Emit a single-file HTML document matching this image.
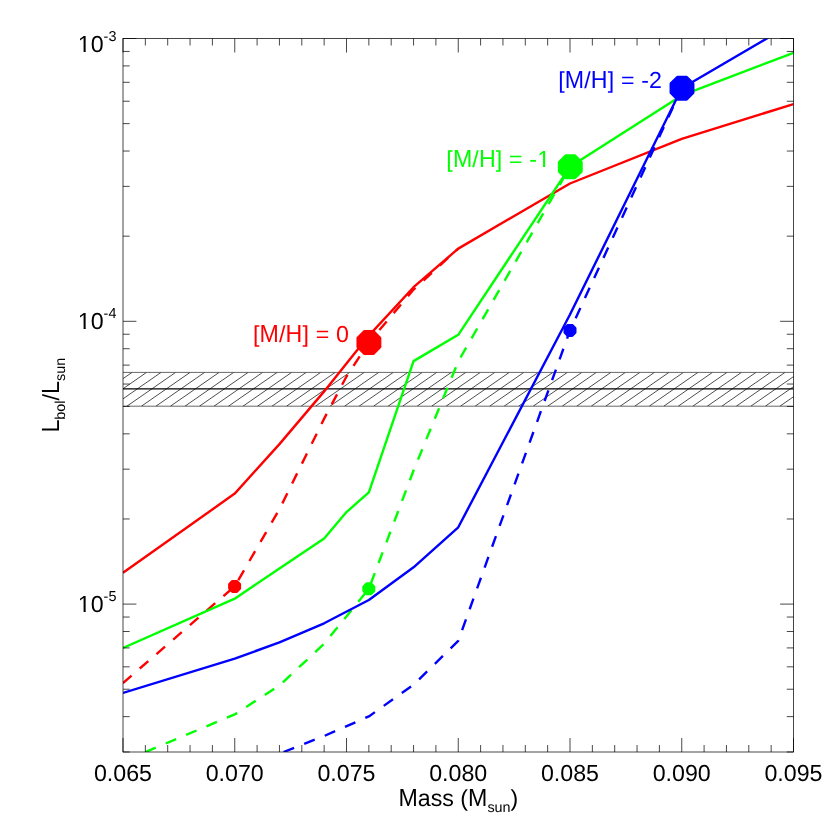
<!DOCTYPE html>
<html><head><meta charset="utf-8"><title>Lbol vs Mass</title>
<style>html,body{margin:0;padding:0;background:#fff;}body{width:830px;height:830px;overflow:hidden;}svg{display:block;will-change:transform;}text{font-family:"Liberation Sans",sans-serif;text-rendering:geometricPrecision;font-kerning:none;white-space:pre;}</style>
</head><body>
<svg width="830" height="830" viewBox="0 0 830 830">
<rect x="0" y="0" width="830" height="830" fill="#fff"/>
<defs><clipPath id="pc"><rect x="123.0" y="38.5" width="670.5" height="713.5"/></clipPath>
<clipPath id="bc"><rect x="123.0" y="372.4" width="670.5" height="33.80000000000001"/></clipPath></defs>
<g clip-path="url(#bc)" stroke="#000" stroke-width="0.7" fill="none">
<line x1="39.84" y1="406.2" x2="88.54" y2="372.4"/>
<line x1="54.35" y1="406.2" x2="103.05" y2="372.4"/>
<line x1="68.86" y1="406.2" x2="117.56" y2="372.4"/>
<line x1="83.37" y1="406.2" x2="132.07" y2="372.4"/>
<line x1="97.88" y1="406.2" x2="146.58" y2="372.4"/>
<line x1="112.39" y1="406.2" x2="161.09" y2="372.4"/>
<line x1="126.90" y1="406.2" x2="175.60" y2="372.4"/>
<line x1="141.41" y1="406.2" x2="190.11" y2="372.4"/>
<line x1="155.92" y1="406.2" x2="204.62" y2="372.4"/>
<line x1="170.43" y1="406.2" x2="219.13" y2="372.4"/>
<line x1="184.94" y1="406.2" x2="233.64" y2="372.4"/>
<line x1="199.45" y1="406.2" x2="248.15" y2="372.4"/>
<line x1="213.96" y1="406.2" x2="262.66" y2="372.4"/>
<line x1="228.47" y1="406.2" x2="277.17" y2="372.4"/>
<line x1="242.98" y1="406.2" x2="291.68" y2="372.4"/>
<line x1="257.49" y1="406.2" x2="306.19" y2="372.4"/>
<line x1="272.00" y1="406.2" x2="320.70" y2="372.4"/>
<line x1="286.51" y1="406.2" x2="335.21" y2="372.4"/>
<line x1="301.02" y1="406.2" x2="349.72" y2="372.4"/>
<line x1="315.53" y1="406.2" x2="364.23" y2="372.4"/>
<line x1="330.04" y1="406.2" x2="378.74" y2="372.4"/>
<line x1="344.55" y1="406.2" x2="393.25" y2="372.4"/>
<line x1="359.06" y1="406.2" x2="407.76" y2="372.4"/>
<line x1="373.57" y1="406.2" x2="422.27" y2="372.4"/>
<line x1="388.08" y1="406.2" x2="436.78" y2="372.4"/>
<line x1="402.59" y1="406.2" x2="451.29" y2="372.4"/>
<line x1="417.10" y1="406.2" x2="465.80" y2="372.4"/>
<line x1="431.61" y1="406.2" x2="480.31" y2="372.4"/>
<line x1="446.12" y1="406.2" x2="494.82" y2="372.4"/>
<line x1="460.63" y1="406.2" x2="509.33" y2="372.4"/>
<line x1="475.14" y1="406.2" x2="523.84" y2="372.4"/>
<line x1="489.65" y1="406.2" x2="538.35" y2="372.4"/>
<line x1="504.16" y1="406.2" x2="552.86" y2="372.4"/>
<line x1="518.67" y1="406.2" x2="567.37" y2="372.4"/>
<line x1="533.18" y1="406.2" x2="581.88" y2="372.4"/>
<line x1="547.69" y1="406.2" x2="596.39" y2="372.4"/>
<line x1="562.20" y1="406.2" x2="610.90" y2="372.4"/>
<line x1="576.71" y1="406.2" x2="625.41" y2="372.4"/>
<line x1="591.22" y1="406.2" x2="639.92" y2="372.4"/>
<line x1="605.73" y1="406.2" x2="654.43" y2="372.4"/>
<line x1="620.24" y1="406.2" x2="668.94" y2="372.4"/>
<line x1="634.75" y1="406.2" x2="683.45" y2="372.4"/>
<line x1="649.26" y1="406.2" x2="697.96" y2="372.4"/>
<line x1="663.77" y1="406.2" x2="712.47" y2="372.4"/>
<line x1="678.28" y1="406.2" x2="726.98" y2="372.4"/>
<line x1="692.79" y1="406.2" x2="741.49" y2="372.4"/>
<line x1="707.30" y1="406.2" x2="756.00" y2="372.4"/>
<line x1="721.81" y1="406.2" x2="770.51" y2="372.4"/>
<line x1="736.32" y1="406.2" x2="785.02" y2="372.4"/>
<line x1="750.83" y1="406.2" x2="799.53" y2="372.4"/>
<line x1="765.34" y1="406.2" x2="814.04" y2="372.4"/>
<line x1="779.85" y1="406.2" x2="828.55" y2="372.4"/>
<line x1="794.36" y1="406.2" x2="843.06" y2="372.4"/>
</g>
<g stroke="#000" fill="none">
<line x1="123.0" y1="372.4" x2="793.5" y2="372.4" stroke-width="0.6"/>
<line x1="123.0" y1="406.2" x2="793.5" y2="406.2" stroke-width="0.6"/>
<line x1="123.0" y1="388.9" x2="793.5" y2="388.9" stroke-width="1.35"/>
</g>
<g clip-path="url(#pc)" fill="none" stroke-width="2.4" stroke-linejoin="round">
<polyline points="123.00,572.80 234.75,493.60 279.45,444.10 324.15,391.40 368.85,335.60 413.55,287.20 458.25,248.60 570.00,183.50 681.75,138.80 793.50,104.10" stroke="#ff0000"/>
<polyline points="123.00,683.00 234.75,586.30 279.45,509.20 324.15,418.60 346.50,376.50 368.85,342.50 413.55,289.60 458.25,248.60" stroke="#ff0000" stroke-dasharray="11.3 10.83" stroke-dashoffset="0"/>
<polyline points="123.00,648.00 234.75,598.70 279.45,568.40 324.15,538.60 346.50,512.10 368.85,492.40 413.55,361.10 458.25,334.80 570.00,166.80 681.75,95.40 793.50,52.80" stroke="#00ff00"/>
<polyline points="145.35,752.10 234.75,714.40 279.45,685.50 324.15,643.80 368.85,588.80 413.55,470.50 458.25,361.50 570.00,166.80" stroke="#00ff00" stroke-dasharray="11.3 10.83" stroke-dashoffset="0"/>
<polyline points="123.00,692.90 234.75,658.70 279.45,642.30 324.15,623.30 368.85,600.00 413.55,567.30 458.25,527.30 570.00,314.50 681.75,88.20 766.05,38.90 793.50,23.00" stroke="#0000ff"/>
<polyline points="283.60,752.00 324.15,736.00 368.85,716.40 413.55,684.80 458.25,640.80 570.00,330.40 681.75,88.20" stroke="#0000ff" stroke-dasharray="11.3 10.83" stroke-dashoffset="0"/>
</g>
<polygon points="379.85,347.03 373.43,353.45 364.37,353.45 357.95,347.03 357.95,337.97 364.37,331.55 373.43,331.55 379.85,337.97" fill="#ff0000" stroke="#ff0000" stroke-width="3" stroke-linejoin="round"/>
<polygon points="581.25,171.33 574.83,177.75 565.77,177.75 559.35,171.33 559.35,162.27 565.77,155.85 574.83,155.85 581.25,162.27" fill="#00ff00" stroke="#00ff00" stroke-width="3" stroke-linejoin="round"/>
<polygon points="692.95,92.73 686.53,99.15 677.47,99.15 671.05,92.73 671.05,83.67 677.47,77.25 686.53,77.25 692.95,83.67" fill="#0000ff" stroke="#0000ff" stroke-width="3" stroke-linejoin="round"/>
<polygon points="239.60,588.47 236.67,591.40 232.53,591.40 229.60,588.47 229.60,584.33 232.53,581.40 236.67,581.40 239.60,584.33" fill="#ff0000" stroke="#ff0000" stroke-width="3" stroke-linejoin="round"/>
<polygon points="373.80,590.87 370.87,593.80 366.73,593.80 363.80,590.87 363.80,586.73 366.73,583.80 370.87,583.80 373.80,586.73" fill="#00ff00" stroke="#00ff00" stroke-width="3" stroke-linejoin="round"/>
<polygon points="575.00,332.47 572.07,335.40 567.93,335.40 565.00,332.47 565.00,328.33 567.93,325.40 572.07,325.40 575.00,328.33" fill="#0000ff" stroke="#0000ff" stroke-width="3" stroke-linejoin="round"/>
<g stroke="#000" stroke-width="0.72" fill="none">
<rect x="123.0" y="38.5" width="670.5" height="713.5"/>
<line x1="123.00" y1="752.0" x2="123.00" y2="738.0"/>
<line x1="123.00" y1="38.5" x2="123.00" y2="52.5"/>
<line x1="145.35" y1="752.0" x2="145.35" y2="745.0"/>
<line x1="145.35" y1="38.5" x2="145.35" y2="45.5"/>
<line x1="167.70" y1="752.0" x2="167.70" y2="745.0"/>
<line x1="167.70" y1="38.5" x2="167.70" y2="45.5"/>
<line x1="190.05" y1="752.0" x2="190.05" y2="745.0"/>
<line x1="190.05" y1="38.5" x2="190.05" y2="45.5"/>
<line x1="212.40" y1="752.0" x2="212.40" y2="745.0"/>
<line x1="212.40" y1="38.5" x2="212.40" y2="45.5"/>
<line x1="234.75" y1="752.0" x2="234.75" y2="738.0"/>
<line x1="234.75" y1="38.5" x2="234.75" y2="52.5"/>
<line x1="257.10" y1="752.0" x2="257.10" y2="745.0"/>
<line x1="257.10" y1="38.5" x2="257.10" y2="45.5"/>
<line x1="279.45" y1="752.0" x2="279.45" y2="745.0"/>
<line x1="279.45" y1="38.5" x2="279.45" y2="45.5"/>
<line x1="301.80" y1="752.0" x2="301.80" y2="745.0"/>
<line x1="301.80" y1="38.5" x2="301.80" y2="45.5"/>
<line x1="324.15" y1="752.0" x2="324.15" y2="745.0"/>
<line x1="324.15" y1="38.5" x2="324.15" y2="45.5"/>
<line x1="346.50" y1="752.0" x2="346.50" y2="738.0"/>
<line x1="346.50" y1="38.5" x2="346.50" y2="52.5"/>
<line x1="368.85" y1="752.0" x2="368.85" y2="745.0"/>
<line x1="368.85" y1="38.5" x2="368.85" y2="45.5"/>
<line x1="391.20" y1="752.0" x2="391.20" y2="745.0"/>
<line x1="391.20" y1="38.5" x2="391.20" y2="45.5"/>
<line x1="413.55" y1="752.0" x2="413.55" y2="745.0"/>
<line x1="413.55" y1="38.5" x2="413.55" y2="45.5"/>
<line x1="435.90" y1="752.0" x2="435.90" y2="745.0"/>
<line x1="435.90" y1="38.5" x2="435.90" y2="45.5"/>
<line x1="458.25" y1="752.0" x2="458.25" y2="738.0"/>
<line x1="458.25" y1="38.5" x2="458.25" y2="52.5"/>
<line x1="480.60" y1="752.0" x2="480.60" y2="745.0"/>
<line x1="480.60" y1="38.5" x2="480.60" y2="45.5"/>
<line x1="502.95" y1="752.0" x2="502.95" y2="745.0"/>
<line x1="502.95" y1="38.5" x2="502.95" y2="45.5"/>
<line x1="525.30" y1="752.0" x2="525.30" y2="745.0"/>
<line x1="525.30" y1="38.5" x2="525.30" y2="45.5"/>
<line x1="547.65" y1="752.0" x2="547.65" y2="745.0"/>
<line x1="547.65" y1="38.5" x2="547.65" y2="45.5"/>
<line x1="570.00" y1="752.0" x2="570.00" y2="738.0"/>
<line x1="570.00" y1="38.5" x2="570.00" y2="52.5"/>
<line x1="592.35" y1="752.0" x2="592.35" y2="745.0"/>
<line x1="592.35" y1="38.5" x2="592.35" y2="45.5"/>
<line x1="614.70" y1="752.0" x2="614.70" y2="745.0"/>
<line x1="614.70" y1="38.5" x2="614.70" y2="45.5"/>
<line x1="637.05" y1="752.0" x2="637.05" y2="745.0"/>
<line x1="637.05" y1="38.5" x2="637.05" y2="45.5"/>
<line x1="659.40" y1="752.0" x2="659.40" y2="745.0"/>
<line x1="659.40" y1="38.5" x2="659.40" y2="45.5"/>
<line x1="681.75" y1="752.0" x2="681.75" y2="738.0"/>
<line x1="681.75" y1="38.5" x2="681.75" y2="52.5"/>
<line x1="704.10" y1="752.0" x2="704.10" y2="745.0"/>
<line x1="704.10" y1="38.5" x2="704.10" y2="45.5"/>
<line x1="726.45" y1="752.0" x2="726.45" y2="745.0"/>
<line x1="726.45" y1="38.5" x2="726.45" y2="45.5"/>
<line x1="748.80" y1="752.0" x2="748.80" y2="745.0"/>
<line x1="748.80" y1="38.5" x2="748.80" y2="45.5"/>
<line x1="771.15" y1="752.0" x2="771.15" y2="745.0"/>
<line x1="771.15" y1="38.5" x2="771.15" y2="45.5"/>
<line x1="793.50" y1="752.0" x2="793.50" y2="738.0"/>
<line x1="793.50" y1="38.5" x2="793.50" y2="52.5"/>
<line x1="123.0" y1="751.97" x2="129.7" y2="751.97"/>
<line x1="793.5" y1="751.97" x2="786.8" y2="751.97"/>
<line x1="123.0" y1="716.64" x2="129.7" y2="716.64"/>
<line x1="793.5" y1="716.64" x2="786.8" y2="716.64"/>
<line x1="123.0" y1="689.23" x2="129.7" y2="689.23"/>
<line x1="793.5" y1="689.23" x2="786.8" y2="689.23"/>
<line x1="123.0" y1="666.84" x2="129.7" y2="666.84"/>
<line x1="793.5" y1="666.84" x2="786.8" y2="666.84"/>
<line x1="123.0" y1="647.91" x2="129.7" y2="647.91"/>
<line x1="793.5" y1="647.91" x2="786.8" y2="647.91"/>
<line x1="123.0" y1="631.51" x2="129.7" y2="631.51"/>
<line x1="793.5" y1="631.51" x2="786.8" y2="631.51"/>
<line x1="123.0" y1="617.04" x2="129.7" y2="617.04"/>
<line x1="793.5" y1="617.04" x2="786.8" y2="617.04"/>
<line x1="123.0" y1="604.10" x2="136.4" y2="604.10"/>
<line x1="793.5" y1="604.10" x2="780.1" y2="604.10"/>
<line x1="123.0" y1="518.97" x2="129.7" y2="518.97"/>
<line x1="793.5" y1="518.97" x2="786.8" y2="518.97"/>
<line x1="123.0" y1="469.17" x2="129.7" y2="469.17"/>
<line x1="793.5" y1="469.17" x2="786.8" y2="469.17"/>
<line x1="123.0" y1="433.84" x2="129.7" y2="433.84"/>
<line x1="793.5" y1="433.84" x2="786.8" y2="433.84"/>
<line x1="123.0" y1="406.43" x2="129.7" y2="406.43"/>
<line x1="793.5" y1="406.43" x2="786.8" y2="406.43"/>
<line x1="123.0" y1="384.04" x2="129.7" y2="384.04"/>
<line x1="793.5" y1="384.04" x2="786.8" y2="384.04"/>
<line x1="123.0" y1="365.11" x2="129.7" y2="365.11"/>
<line x1="793.5" y1="365.11" x2="786.8" y2="365.11"/>
<line x1="123.0" y1="348.71" x2="129.7" y2="348.71"/>
<line x1="793.5" y1="348.71" x2="786.8" y2="348.71"/>
<line x1="123.0" y1="334.24" x2="129.7" y2="334.24"/>
<line x1="793.5" y1="334.24" x2="786.8" y2="334.24"/>
<line x1="123.0" y1="321.30" x2="136.4" y2="321.30"/>
<line x1="793.5" y1="321.30" x2="780.1" y2="321.30"/>
<line x1="123.0" y1="236.17" x2="129.7" y2="236.17"/>
<line x1="793.5" y1="236.17" x2="786.8" y2="236.17"/>
<line x1="123.0" y1="186.37" x2="129.7" y2="186.37"/>
<line x1="793.5" y1="186.37" x2="786.8" y2="186.37"/>
<line x1="123.0" y1="151.04" x2="129.7" y2="151.04"/>
<line x1="793.5" y1="151.04" x2="786.8" y2="151.04"/>
<line x1="123.0" y1="123.63" x2="129.7" y2="123.63"/>
<line x1="793.5" y1="123.63" x2="786.8" y2="123.63"/>
<line x1="123.0" y1="101.24" x2="129.7" y2="101.24"/>
<line x1="793.5" y1="101.24" x2="786.8" y2="101.24"/>
<line x1="123.0" y1="82.31" x2="129.7" y2="82.31"/>
<line x1="793.5" y1="82.31" x2="786.8" y2="82.31"/>
<line x1="123.0" y1="65.91" x2="129.7" y2="65.91"/>
<line x1="793.5" y1="65.91" x2="786.8" y2="65.91"/>
<line x1="123.0" y1="51.44" x2="129.7" y2="51.44"/>
<line x1="793.5" y1="51.44" x2="786.8" y2="51.44"/>
<line x1="123.0" y1="38.50" x2="136.4" y2="38.50"/>
<line x1="793.5" y1="38.50" x2="780.1" y2="38.50"/>
</g>
<defs><clipPath id="one"><path d="M-2,-30 H16 V-2 H7.944 V1 H5.774 V-2 H-2 Z"/></clipPath></defs>
<g fill="#000">
<text transform="translate(93.97,780.90)" font-size="23.2" xml:space="preserve">0.065</text>
</g>
<g fill="#000">
<text transform="translate(205.72,780.90)" font-size="23.2" xml:space="preserve">0.070</text>
</g>
<g fill="#000">
<text transform="translate(317.47,780.90)" font-size="23.2" xml:space="preserve">0.075</text>
</g>
<g fill="#000">
<text transform="translate(429.22,780.90)" font-size="23.2" xml:space="preserve">0.080</text>
</g>
<g fill="#000">
<text transform="translate(540.97,780.90)" font-size="23.2" xml:space="preserve">0.085</text>
</g>
<g fill="#000">
<text transform="translate(652.72,780.90)" font-size="23.2" xml:space="preserve">0.090</text>
</g>
<g fill="#000">
<text transform="translate(764.47,780.90)" font-size="23.2" xml:space="preserve">0.095</text>
</g>
<g fill="#000">
<text transform="translate(77.79,52.00)" font-size="23.2" clip-path="url(#one)" xml:space="preserve">1</text>
<text transform="translate(90.69,52.00)" font-size="23.2" xml:space="preserve">0</text>
<text transform="translate(103.60,41.00)" font-size="14.4" xml:space="preserve">-3</text>
</g>
<g fill="#000">
<text transform="translate(77.79,329.00)" font-size="23.2" clip-path="url(#one)" xml:space="preserve">1</text>
<text transform="translate(90.69,329.00)" font-size="23.2" xml:space="preserve">0</text>
<text transform="translate(103.60,318.00)" font-size="14.4" xml:space="preserve">-4</text>
</g>
<g fill="#000">
<text transform="translate(77.79,612.00)" font-size="23.2" clip-path="url(#one)" xml:space="preserve">1</text>
<text transform="translate(90.69,612.00)" font-size="23.2" xml:space="preserve">0</text>
<text transform="translate(103.60,601.00)" font-size="14.4" xml:space="preserve">-5</text>
</g>
<g fill="#000">
<text transform="translate(398.47,806.00) scale(1,1.07)" font-size="23.2" xml:space="preserve">M</text>
<text transform="translate(417.79,806.00)" font-size="23.2" xml:space="preserve">ass (</text>
<text transform="translate(468.07,806.00) scale(1,1.07)" font-size="23.2" xml:space="preserve">M</text>
<text transform="translate(487.39,811.60)" font-size="14.4" xml:space="preserve">sun</text>
<text transform="translate(510.61,806.00)" font-size="23.2" xml:space="preserve">)</text>
</g>
<g transform="translate(59.2,395.2) rotate(-90)">
<g fill="#000">
<text transform="translate(-37.34,0.00) scale(1,1.07)" font-size="23.2" xml:space="preserve">L</text>
<text transform="translate(-24.44,5.90)" font-size="14.4" xml:space="preserve">bol</text>
<text transform="translate(-5.22,0.00)" font-size="23.2" xml:space="preserve">/</text>
<text transform="translate(1.22,0.00) scale(1,1.07)" font-size="23.2" xml:space="preserve">L</text>
<text transform="translate(14.13,5.90)" font-size="14.4" xml:space="preserve">sun</text>
</g>
</g>
<g fill="#ff0000" letter-spacing="0.15">
<text transform="translate(252.90,342.20)" font-size="23.2" xml:space="preserve">[</text>
<text transform="translate(259.50,342.20) scale(1,1.07)" font-size="23.2" xml:space="preserve">M</text>
<text transform="translate(278.97,342.20)" font-size="23.2" xml:space="preserve">/</text>
<text transform="translate(285.57,342.20) scale(1,1.07)" font-size="23.2" xml:space="preserve">H</text>
<text transform="translate(302.47,342.20)" font-size="23.2" xml:space="preserve">] = 0</text>
</g>
<g fill="#00ff00" letter-spacing="0.15">
<text transform="translate(446.30,167.00)" font-size="23.2" xml:space="preserve">[</text>
<text transform="translate(452.90,167.00) scale(1,1.07)" font-size="23.2" xml:space="preserve">M</text>
<text transform="translate(472.37,167.00)" font-size="23.2" xml:space="preserve">/</text>
<text transform="translate(478.97,167.00) scale(1,1.07)" font-size="23.2" xml:space="preserve">H</text>
<text transform="translate(495.87,167.00)" font-size="23.2" xml:space="preserve">] = -</text>
<text transform="translate(537.23,167.00)" font-size="23.2" clip-path="url(#one)" xml:space="preserve">1</text>
</g>
<g fill="#0000ff" letter-spacing="0.15">
<text transform="translate(558.20,88.00)" font-size="23.2" xml:space="preserve">[</text>
<text transform="translate(564.80,88.00) scale(1,1.07)" font-size="23.2" xml:space="preserve">M</text>
<text transform="translate(584.27,88.00)" font-size="23.2" xml:space="preserve">/</text>
<text transform="translate(590.87,88.00) scale(1,1.07)" font-size="23.2" xml:space="preserve">H</text>
<text transform="translate(607.77,88.00)" font-size="23.2" xml:space="preserve">] = -2</text>
</g>
</svg></body></html>
